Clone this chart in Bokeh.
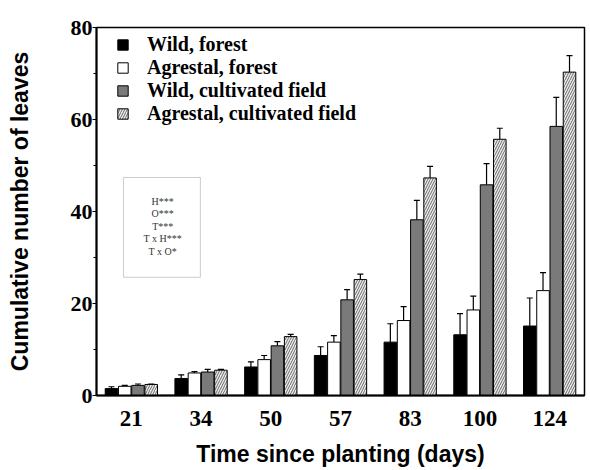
from bokeh.plotting import figure
from bokeh.models import (ColumnDataSource, FactorRange, Range1d, FixedTicker, Whisker,
                          TeeHead, Legend, LegendItem, BoxAnnotation, Label)
from bokeh.transform import dodge
from bokeh.embed import file_html
from bokeh.resources import INLINE

# ---------------- data ----------------
days = ["21", "34", "50", "57", "83", "100", "124"]

wild_forest = [1.5, 3.7, 6.2, 8.7, 11.6, 13.2, 15.1]
wild_forest_err = [0.4, 0.8, 1.1, 1.9, 4.0, 4.6, 6.1]

agrestal_forest = [2.0, 4.9, 7.8, 11.6, 16.3, 18.6, 22.8]
agrestal_forest_err = [0.2, 0.3, 0.9, 1.4, 3.0, 3.0, 3.9]

wild_field = [2.2, 5.1, 10.8, 20.8, 38.2, 45.8, 58.5]
wild_field_err = [0.3, 0.6, 0.9, 2.2, 4.2, 4.6, 6.3]

agrestal_field = [2.4, 5.5, 12.8, 25.2, 47.3, 55.7, 70.3]
agrestal_field_err = [0.1, 0.2, 0.5, 1.2, 2.5, 2.4, 3.6]

series_names = ["Wild, forest", "Agrestal, forest",
                "Wild, cultivated field", "Agrestal, cultivated field"]

stats_lines = ["H***", "O***", "T***", "T x H***", "T x O*"]

y_ticks = [0, 20, 40, 60, 80]
y_minor = [10, 30, 50, 70]

# ---------------- figure ----------------
p = figure(width=590, height=470, x_range=FactorRange(factors=days, range_padding=0),
           y_range=Range1d(0, 80), output_backend="svg", toolbar_location=None,
           min_border_left=96, min_border_right=6, min_border_top=27, min_border_bottom=75)

p.background_fill_color = "white"
p.border_fill_color = "white"
p.outline_line_color = "black"
p.outline_line_width = 1.5
p.xgrid.visible = False
p.ygrid.visible = False

styles = [
    dict(fill_color="black", line_color="black"),
    dict(fill_color="white", line_color="black"),
    dict(fill_color="#7a7a7a", line_color="black"),
    dict(fill_color="#ececec", line_color="black", hatch_pattern="/",
         hatch_color="#6a6a6a", hatch_scale=5, hatch_weight=1),
]
values = [wild_forest, agrestal_forest, wild_field, agrestal_field]
errors = [wild_forest_err, agrestal_forest_err, wild_field_err, agrestal_field_err]
offsets = [-0.285, -0.095, 0.095, 0.285]

items = []
for name, vals, errs, off, st in zip(series_names, values, errors, offsets, styles):
    src = ColumnDataSource(dict(x=days, top=vals,
                                upper=[v + e for v, e in zip(vals, errs)]))
    w = Whisker(base=dodge("x", off, range=p.x_range), lower="top", upper="upper",
                source=src, lower_head=None,
                upper_head=TeeHead(size=6, line_color="black", line_width=1.2),
                line_color="black", line_width=1.2, level="underlay")
    p.add_layout(w)
    r = p.vbar(x=dodge("x", off, range=p.x_range), top="top", width=0.18, bottom=0,
               source=src, line_width=1, **st)
    items.append(LegendItem(label=name, renderers=[r]))

legend = Legend(items=items, location=(20, 270), orientation="vertical",
                label_text_font="Liberation Serif", label_text_font_style="bold",
                label_text_font_size="20px", label_text_color="black",
                glyph_width=13, glyph_height=13,
                label_standoff=18, spacing=0, label_height=19, padding=0, margin=0,
                border_line_color=None, background_fill_alpha=0)
p.add_layout(legend)

# statistics inset box
p.add_layout(BoxAnnotation(left=0.387, right=1.49, bottom=25.7, top=47.4,
                           fill_color=None, line_color="#555555", line_width=1))
for i, t in enumerate(stats_lines):
    p.add_layout(Label(x=0.95, y=42.2 - i * 2.7, text=t, text_align="center",
                       text_baseline="middle", text_font="Liberation Serif",
                       text_font_size="10px", text_color="#333333"))

# axes
p.yaxis.ticker = FixedTicker(ticks=y_ticks, minor_ticks=y_minor)
p.yaxis.major_label_text_font = "Liberation Serif"
p.yaxis.major_label_text_font_style = "bold"
p.yaxis.major_label_text_font_size = "22px"
p.yaxis.major_label_text_color = "black"
p.yaxis.major_tick_out = 4
p.yaxis.major_tick_in = 0
p.yaxis.minor_tick_out = 3
p.yaxis.minor_tick_in = 0
p.yaxis.major_label_standoff = 0
p.yaxis.axis_line_width = 2
p.yaxis.axis_label = "Cumulative number of leaves"
p.yaxis.axis_label_text_font = "Liberation Sans"
p.yaxis.axis_label_text_font_style = "bold"
p.yaxis.axis_label_text_font_size = "23px"
p.yaxis.axis_label_text_color = "black"
p.yaxis.axis_label_standoff = 35

p.xaxis.major_label_text_font = "Liberation Serif"
p.xaxis.major_label_text_font_style = "bold"
p.xaxis.major_label_text_font_size = "23px"
p.xaxis.major_label_text_color = "black"
p.xaxis.major_tick_line_color = None
p.xaxis.major_label_standoff = 9
p.xaxis.axis_line_width = 2
p.xaxis.axis_label = "Time since planting (days)"
p.xaxis.axis_label_text_font = "Liberation Sans"
p.xaxis.axis_label_text_font_style = "bold"
p.xaxis.axis_label_text_font_size = "23px"
p.xaxis.axis_label_text_color = "black"
p.xaxis.axis_label_standoff = 12

open("out.html", "w").write(file_html(p, INLINE))
